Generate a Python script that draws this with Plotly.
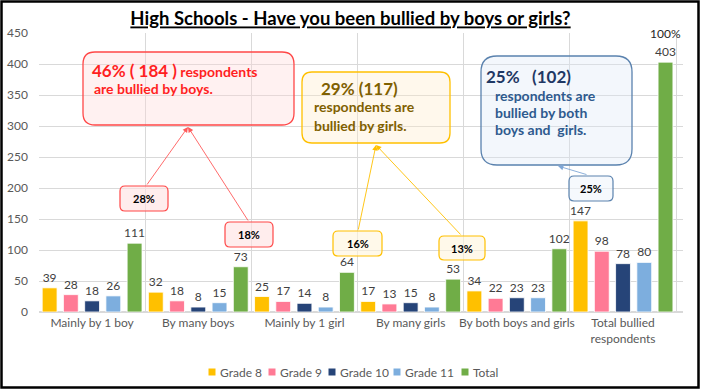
import plotly.graph_objects as go

categories = ["Mainly by 1 boy", "By many boys", "Mainly by 1 girl", "By many girls",
              "By both boys and girls", "Total bullied<br>respondents"]
series_names = ["Grade 8", "Grade 9", "Grade 10", "Grade 11", "Total"]
grade8 = [39, 32, 25, 17, 34, 147]
grade9 = [28, 18, 17, 13, 22, 98]
grade10 = [18, 8, 14, 15, 23, 78]
grade11 = [26, 15, 8, 8, 23, 80]
total = [111, 73, 64, 53, 102, 403]
y_ticks = [0, 50, 100, 150, 200, 250, 300, 350, 400, 450]
pct_labels = ["28%", "18%", "16%", "13%", "25%"]
total_pct_label = "100%"

title_text = "High Schools - Have you been bullied by boys or girls?"

colors = ["#FFC000", "#FF7A95", "#264478", "#7DAEDE", "#70AD47"]
FONT = "Lato"

# plot-area pixel geometry
W, H = 701, 390
L, R, T, B = 39, 683, 33, 312


def px(x):
    return (x - L) / (R - L)


def py(y):
    return (B - y) / (B - T)


def rrect(x0, y0, x1, y1, r):
    # rounded rectangle path in paper coords from pixel coords
    def P(x, y):
        return f"{px(x):.5f},{py(y):.5f}"
    return (f"M{P(x0 + r, y0)} L{P(x1 - r, y0)} Q{P(x1, y0)} {P(x1, y0 + r)} "
            f"L{P(x1, y1 - r)} Q{P(x1, y1)} {P(x1 - r, y1)} "
            f"L{P(x0 + r, y1)} Q{P(x0, y1)} {P(x0, y1 - r)} "
            f"L{P(x0, y0 + r)} Q{P(x0, y0)} {P(x0 + r, y0)} Z")


fig = go.Figure()
for name, vals, col in zip(series_names, [grade8, grade9, grade10, grade11, total], colors):
    fig.add_trace(go.Bar(
        name=name, x=categories, y=vals,
        marker=dict(color=col, line=dict(color="white", width=0.8)),
        text=[str(v) for v in vals], textposition="outside", constraintext="none",
        textfont=dict(family=FONT, size=12, color="#404040"),
        cliponaxis=False, showlegend=False,
    ))

shapes = []
annotations = []

# outer frame
shapes.append(dict(type="rect", xref="paper", yref="paper",
                   x0=px(1.5), x1=px(698.5), y0=py(1.5), y1=py(387.5),
                   line=dict(color="black", width=2.5), fillcolor="rgba(0,0,0,0)", layer="above"))

# big callout boxes
big_boxes = [
    ((83, 52, 294, 125), 12, "#FF4747", "rgba(255,215,215,0.35)"),
    ((302, 72, 450, 143), 10, "#FFC000", "rgba(255,236,200,0.35)"),
    ((481, 56, 632, 165), 16, "#5A82AE", "rgba(220,232,245,0.35)"),
]
for (x0, y0, x1, y1), r, lc, fc in big_boxes:
    shapes.append(dict(type="path", xref="paper", yref="paper", path=rrect(x0, y0, x1, y1, r),
                       line=dict(color=lc, width=1.3), fillcolor=fc, layer="above"))

# small percentage boxes
small_boxes = [
    ((120, 186, 168, 211), "#FF4747", "rgba(255,225,225,0.6)"),
    ((225, 222, 273, 247), "#FF4747", "rgba(255,225,225,0.6)"),
    ((333, 231, 382, 256), "#FFC000", "rgba(255,245,220,0.6)"),
    ((439, 236, 485, 260), "#FFC000", "rgba(255,245,220,0.6)"),
    ((569, 176, 613, 201), "#5A82AE", "rgba(240,245,252,0.6)"),
]
for ((x0, y0, x1, y1), lc, fc), lab in zip(small_boxes, pct_labels):
    shapes.append(dict(type="path", xref="paper", yref="paper", path=rrect(x0, y0, x1, y1, 5),
                       line=dict(color=lc, width=1.2), fillcolor=fc, layer="above"))
    annotations.append(dict(xref="paper", yref="paper", x=px((x0 + x1) / 2), y=py((y0 + y1) / 2),
                            text=f"<b>{lab}</b>", showarrow=False, xanchor="center", yanchor="middle",
                            font=dict(family=FONT, size=11, color="black")))

# connector arrows (head at big box)
arrows = [
    ((188, 127), (146, 186), "#FF5A5A"),
    ((188, 127), (249, 222), "#FF5A5A"),
    ((376, 145), (358, 231), "#FFC000"),
    ((376, 145), (462, 236), "#FFC000"),
    ((558, 166), (588, 175), "#7EA6D6"),
]
for (hx, hy), (tx, ty), col in arrows:
    annotations.append(dict(xref="paper", yref="paper", x=px(hx), y=py(hy),
                            ax=tx - hx, ay=ty - hy, text="", showarrow=True,
                            arrowhead=2, arrowsize=1.2, arrowwidth=0.9, arrowcolor=col,
                            standoff=0, startstandoff=0))


# callout texts
def txt(x, y, s, size, color):
    annotations.append(dict(xref="paper", yref="paper", x=px(x), y=py(y), text=s,
                            showarrow=False, xanchor="left", yanchor="middle",
                            font=dict(family=FONT, size=size, color=color)))


red = "#FF1F1F"
txt(90, 70, "<b><span style='font-size:17px'>46% ( 184 )</span> respondents</b>", 14, red)
txt(92, 88, "<b>are bullied by boys.</b>", 14, red)

olive = "#7F6000"
txt(319, 88, "<b>29% (117)</b>", 17, olive)
txt(312, 107, "<b>respondents are</b>", 14, olive)
txt(312, 125, "<b>bullied by girls.</b>", 14, olive)

navy = "#1F3864"
blue = "#2E5A8E"
txt(484, 76, "<b>25%   (102)</b>", 17, navy)
txt(493, 95, "<b>respondents are</b>", 14, blue)
txt(493, 112, "<b>bullied by both</b>", 14, blue)
txt(493, 129, "<b>boys and  girls.</b>", 14, blue)

# 100% label above the total bar
annotations.append(dict(xref="x", yref="y", x=5.4, y=total[-1], yshift=29, text=total_pct_label,
                        showarrow=False, xanchor="center", yanchor="middle",
                        font=dict(family=FONT, size=12, color="#262626")))

# legend (custom, compact like the reference)
legend_sq_x = [212, 272, 332, 397, 465]
for name, col, sx in zip(series_names, colors, legend_sq_x):
    shapes.append(dict(type="rect", xref="paper", yref="paper",
                       x0=px(sx - 3.5), x1=px(sx + 3.5), y0=py(375.5), y1=py(368.5),
                       line=dict(width=0), fillcolor=col, layer="above"))
    annotations.append(dict(xref="paper", yref="paper", x=px(sx + 6), y=py(372), text=name,
                            showarrow=False, xanchor="left", yanchor="middle",
                            font=dict(family=FONT, size=12, color="#595959")))

fig.update_layout(
    width=W, height=H,
    margin=dict(l=L, r=W - R, t=T, b=H - B, autoexpand=False),
    paper_bgcolor="white", plot_bgcolor="white",
    barmode="group", bargap=0.0, bargroupgap=0.3,
    title=dict(text=f"<b><u>{title_text}</u></b>", x=0.5, xref="container", xanchor="center",
               y=1 - 19 / H, yref="container", yanchor="middle",
               font=dict(family=FONT, size=18.5, color="black")),
    font=dict(family=FONT, size=11, color="#595959"),
    showlegend=False,
    shapes=shapes, annotations=annotations,
)
fig.update_xaxes(type="category", tickson="boundaries", showgrid=True, gridcolor="#D9D9D9",
                 gridwidth=1, ticks="", showline=True, linecolor="#D9D9D9",
                 tickangle=0, automargin=False,
                 tickfont=dict(family=FONT, size=12, color="#595959"))
fig.update_yaxes(range=[0, 450], tickvals=y_ticks, showgrid=True, gridcolor="#D9D9D9",
                 zeroline=True, zerolinecolor="#D9D9D9", ticks="", showline=False,
                 ticklabelstandoff=10, automargin=False,
                 tickfont=dict(family=FONT, size=12, color="#595959"))

fig.write_html("out.html", config={"displayModeBar": False},
               post_script="document.body.style.margin='0';document.body.style.overflow='hidden';")
